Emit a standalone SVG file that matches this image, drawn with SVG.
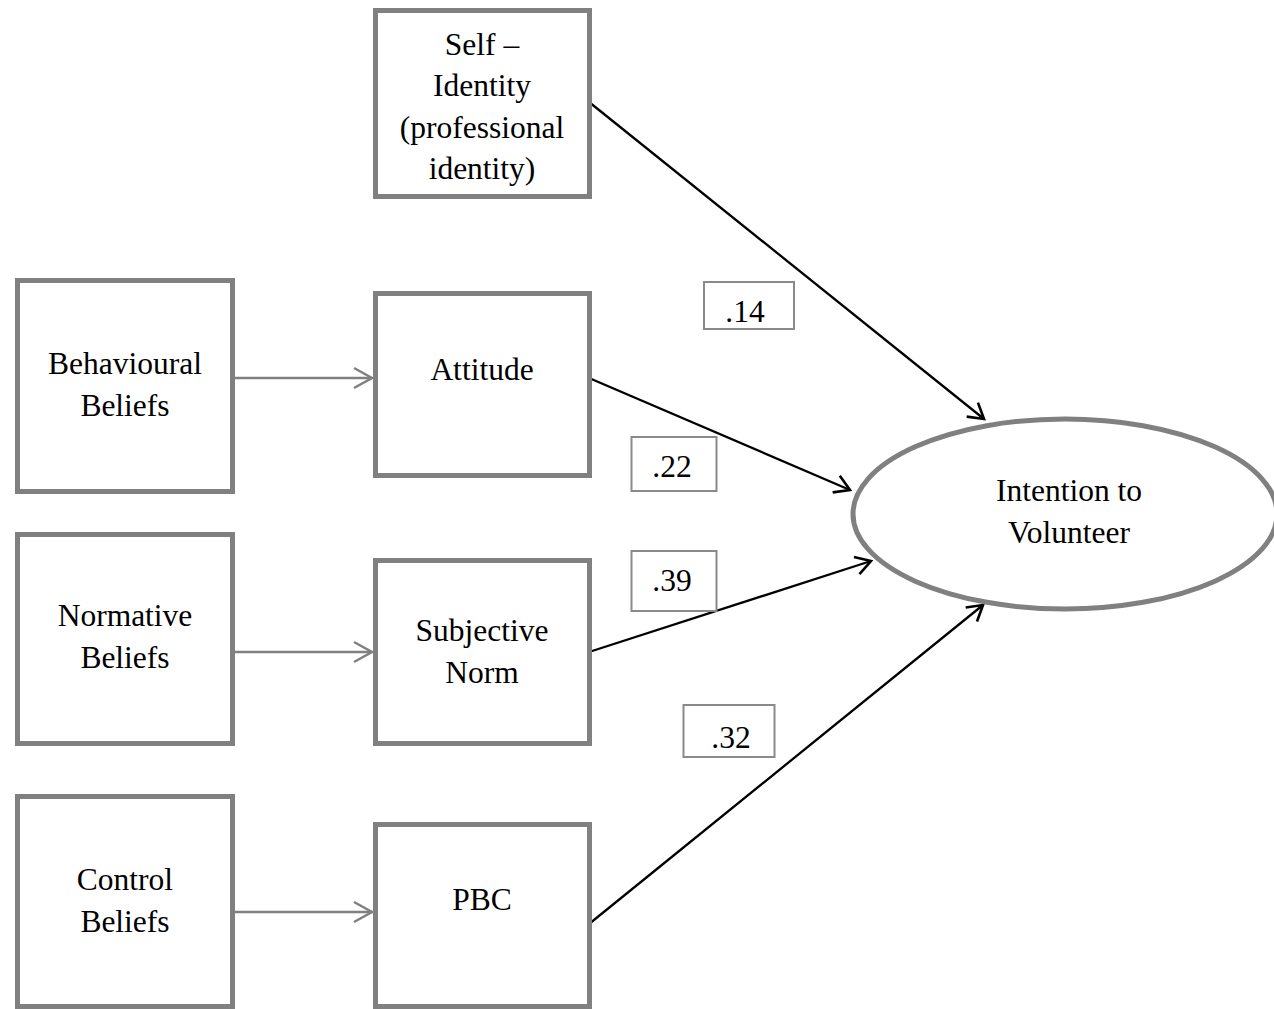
<svg xmlns="http://www.w3.org/2000/svg" width="1274" height="1009" viewBox="0 0 1274 1009">
<style>
.box{fill:#fff;stroke:#808080;stroke-width:5}
.lbl{fill:#fff;stroke:#8a8a8a;stroke-width:2}
.t{font-family:"Liberation Serif","Times New Roman",serif;font-size:31.5px;fill:#000;text-anchor:middle}
.blk{stroke:#000;stroke-width:2.3;fill:none}
.gry{stroke:#808080;stroke-width:2.5;fill:none}
</style>
<defs>
<marker id="ab" markerUnits="userSpaceOnUse" markerWidth="24" markerHeight="24" viewBox="-20 -12 24 24" refX="0" refY="0" orient="auto">
<path d="M-15,-9 L0,0 L-15,9" fill="none" stroke="#000" stroke-width="2.6"/>
</marker>
<marker id="ag" markerUnits="userSpaceOnUse" markerWidth="24" markerHeight="24" viewBox="-20 -12 24 24" refX="0" refY="0" orient="auto">
<path d="M-18,-10 L0,0 L-18,10" fill="none" stroke="#808080" stroke-width="2.5"/>
</marker>
</defs>
<rect width="1274" height="1009" fill="#fff"/>
<g id="connectors">
<line class="gry" x1="235" y1="378" x2="372" y2="378" marker-end="url(#ag)"/>
<line class="gry" x1="235" y1="652" x2="372" y2="652" marker-end="url(#ag)"/>
<line class="gry" x1="235" y1="912" x2="372" y2="912" marker-end="url(#ag)"/>
<line class="blk" x1="589" y1="102" x2="984" y2="419" marker-end="url(#ab)"/>
<line class="blk" x1="589" y1="378" x2="850" y2="490" marker-end="url(#ab)"/>
<line class="blk" x1="589" y1="652" x2="871" y2="561" marker-end="url(#ab)"/>
<line class="blk" x1="589" y1="924" x2="983" y2="605" marker-end="url(#ab)"/>
</g>
<g id="self-identity">
<rect class="box" x="375.5" y="10.5" width="214" height="186"/>
<text class="t" x="482" y="55">Self –</text>
<text class="t" x="482" y="96">Identity</text>
<text class="t" x="482" y="138">(professional</text>
<text class="t" x="482" y="179">identity)</text>
</g>
<g id="behavioural-beliefs">
<rect class="box" x="17.5" y="280.5" width="215" height="211"/>
<text class="t" x="125" y="374">Behavioural</text>
<text class="t" x="125" y="416">Beliefs</text>
</g>
<g id="attitude">
<rect class="box" x="375.5" y="293.5" width="214" height="182"/>
<text class="t" x="482" y="380">Attitude</text>
</g>
<g id="normative-beliefs">
<rect class="box" x="17.5" y="534.5" width="215" height="209"/>
<text class="t" x="125" y="626">Normative</text>
<text class="t" x="125" y="668">Beliefs</text>
</g>
<g id="subjective-norm">
<rect class="box" x="375.5" y="560.5" width="214" height="183"/>
<text class="t" x="482" y="641">Subjective</text>
<text class="t" x="482" y="683">Norm</text>
</g>
<g id="control-beliefs">
<rect class="box" x="17.5" y="796.5" width="215" height="210"/>
<text class="t" x="125" y="890">Control</text>
<text class="t" x="125" y="932">Beliefs</text>
</g>
<g id="pbc">
<rect class="box" x="375.5" y="824.5" width="214" height="182"/>
<text class="t" x="482" y="910">PBC</text>
</g>
<g id="intention">
<ellipse cx="1065" cy="514" rx="212" ry="95" fill="#fff" stroke="#808080" stroke-width="5"/>
<text class="t" x="1069" y="501">Intention to</text>
<text class="t" x="1069" y="543">Volunteer</text>
</g>
<g id="coef-14">
<rect class="lbl" x="704" y="282" width="90" height="47"/>
<text class="t" x="745" y="322">.14</text>
</g>
<g id="coef-22">
<rect class="lbl" x="631.5" y="437" width="85" height="54"/>
<text class="t" x="672" y="477">.22</text>
</g>
<g id="coef-39">
<rect class="lbl" x="631.5" y="551" width="85" height="60"/>
<text class="t" x="672" y="591">.39</text>
</g>
<g id="coef-32">
<rect class="lbl" x="683.5" y="705" width="91" height="52"/>
<text class="t" x="731" y="748">.32</text>
</g>
</svg>
